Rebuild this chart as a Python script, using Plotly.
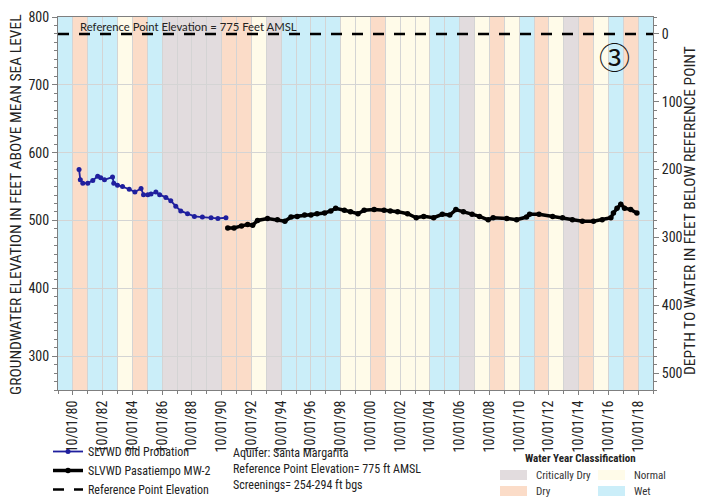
import plotly.graph_objects as go
import pandas as pd

# ---------------- data ----------------
old_prob_dates = ["1981-03-01", "1981-04-01", "1981-06-01", "1981-10-01", "1982-02-01", "1982-06-01",
                  "1982-08-15", "1982-11-15", "1983-06-01", "1983-07-01", "1983-10-01", "1984-02-01",
                  "1984-07-15", "1984-12-01", "1985-05-01", "1985-07-01", "1985-10-15", "1986-01-01",
                  "1986-05-01", "1986-08-01", "1987-01-01", "1987-05-01", "1987-09-01", "1988-01-01",
                  "1988-06-15", "1988-12-01", "1989-06-15", "1990-01-15", "1990-07-01", "1991-01-15"]
old_prob_vals = [575, 560, 555, 555, 559, 565, 563, 560, 564, 555, 552, 550,
                 546, 542, 547, 538, 538, 539, 542, 538, 534, 529, 521, 514,
                 510, 506, 505, 504, 503, 504]

mw2_dates = ["1991-03-01", "1991-08-01", "1992-02-01", "1992-07-01", "1992-11-01", "1993-03-01",
             "1993-11-01", "1994-07-01", "1995-01-01", "1995-06-01", "1995-11-01", "1996-05-01",
             "1996-10-01", "1997-03-01", "1997-09-01", "1998-02-01", "1998-06-01", "1999-01-01",
             "1999-06-01", "1999-12-01", "2000-05-01", "2001-01-01", "2001-09-01", "2002-02-01",
             "2002-08-01", "2003-04-01", "2003-11-01", "2004-05-01", "2005-01-01", "2005-08-01",
             "2006-02-01", "2006-07-01", "2007-01-01", "2007-08-01", "2008-02-01", "2008-09-01",
             "2009-01-01", "2009-12-01", "2010-08-01", "2011-04-01", "2011-06-15", "2012-02-01",
             "2013-01-01", "2013-09-01", "2014-05-01", "2015-01-01", "2015-10-01", "2016-05-01",
             "2016-12-01", "2017-02-01", "2017-05-01", "2017-08-01", "2017-11-01", "2018-04-01",
             "2018-09-01"]
mw2_vals = [489, 489, 492, 494, 493, 500, 503, 501, 499, 505, 506, 508,
            508, 510, 511, 514, 518, 515, 513, 510, 515, 516, 515, 514,
            513, 510, 504, 506, 504, 509, 508, 516, 513, 509, 506, 501,
            504, 503, 501, 505, 509, 509, 506, 504, 501, 499, 499, 501,
            504, 511, 518, 524, 518, 516, 511]

ref_elev = 775
x_start, x_end = "1979-10-01", "2019-10-01"

wy_years = list(range(1980, 2020))
wy_class = ["W", "D", "W", "W", "N", "D", "W", "C", "C", "C",
            "C", "D", "D", "N", "C", "W", "W", "W", "W", "N",
            "N", "D", "N", "N", "N", "W", "W", "C", "N", "D",
            "N", "W", "D", "N", "C", "D", "N", "W", "D", "W"]
class_names = {"C": "Critically Dry", "N": "Normal", "D": "Dry", "W": "Wet"}
class_colors = {"C": "#e2dcde", "N": "#fffbe9", "D": "#fbdcc8", "W": "#cbeef9"}

tick_labels = ["10/01/80", "10/01/82", "10/01/84", "10/01/86", "10/01/88", "10/01/90",
               "10/01/92", "10/01/94", "10/01/96", "10/01/98", "10/01/00", "10/01/02",
               "10/01/04", "10/01/06", "10/01/08", "10/01/10", "10/01/12", "10/01/14",
               "10/01/16", "10/01/18"]
tick_vals = pd.to_datetime(tick_labels, format="%m/%d/%y")

y_range = [250, 800]

NARROW = "Liberation Sans Narrow, Arial Narrow, Roboto Condensed, Liberation Sans, Arial, sans-serif"

# page body has an 8px margin; figure is sized so it ends at the window edge
OFF = 8
W, H = 704 - OFF, 499 - OFF
ML, MR, MT, MB = 58 - OFF, 704 - 653, 17 - OFF, 499 - 390
PW, PH = W - ML - MR, H - MT - MB


def px(x):
    """window x pixel -> paper coordinate"""
    return (x - OFF - ML) / PW


def py(y):
    """window y pixel -> paper coordinate"""
    return (H - MB - (y - OFF)) / PH


fig = go.Figure()

# water-year background bands
shapes = []
for yr, c in zip(wy_years, wy_class):
    shapes.append(dict(type="rect", xref="x", yref="paper",
                       x0=f"{yr - 1}-10-01", x1=f"{yr}-10-01", y0=0, y1=1,
                       fillcolor=class_colors[c], line=dict(width=0), layer="below"))

fig.add_trace(go.Scatter(
    x=pd.to_datetime(old_prob_dates), y=old_prob_vals, mode="lines+markers",
    name="SLVWD Old Probation",
    line=dict(color="#1f1f9e", width=1.8), marker=dict(color="#1f1f9e", size=5)))
fig.add_trace(go.Scatter(
    x=pd.to_datetime(mw2_dates), y=mw2_vals, mode="lines+markers",
    name="SLVWD Pasatiempo MW-2",
    line=dict(color="black", width=3.5), marker=dict(color="black", size=5.5)))
fig.add_trace(go.Scatter(
    x=[x_start, x_end], y=[ref_elev, ref_elev], mode="lines",
    name="Reference Point Elevation",
    line=dict(color="black", width=2.5, dash="11px,10px")))
# invisible trace to activate right axis
fig.add_trace(go.Scatter(
    x=[x_start], y=[ref_elev - y_range[0]], yaxis="y2", mode="markers",
    marker=dict(opacity=0), showlegend=False, hoverinfo="skip"))

# water year classification legend swatches
legend_items = [("C", 500, 475), ("D", 500, 491), ("N", 598, 475), ("W", 598, 491)]
annotations = []
for c, x0, yc in legend_items:
    shapes.append(dict(type="rect", xref="paper", yref="paper",
                       x0=px(x0), x1=px(x0 + 27), y0=py(yc + 5), y1=py(yc - 5),
                       fillcolor=class_colors[c], line=dict(width=0), layer="above"))
    annotations.append(dict(xref="paper", yref="paper", x=px(x0 + 34), y=py(yc),
                            text=class_names[c], showarrow=False, xanchor="left",
                            yanchor="middle", font=dict(family=NARROW, size=11, color="#333")))

annotations += [
    dict(xref="paper", yref="paper", x=px(580), y=py(458), text="<b>Water Year Classification</b>",
         showarrow=False, xanchor="center", yanchor="middle",
         font=dict(family=NARROW, size=11, color="#222")),
    dict(xref="paper", yref="paper", x=px(231), y=py(453), text="Aquifer: Santa Margarita",
         showarrow=False, xanchor="left", yanchor="middle", font=dict(family=NARROW, size=12, color="#222")),
    dict(xref="paper", yref="paper", x=px(231), y=py(469), text="Reference Point Elevation= 775 ft AMSL",
         showarrow=False, xanchor="left", yanchor="middle", font=dict(family=NARROW, size=12, color="#222")),
    dict(xref="paper", yref="paper", x=px(231), y=py(485), text="Screenings= 254-294 ft bgs",
         showarrow=False, xanchor="left", yanchor="middle", font=dict(family=NARROW, size=12, color="#222")),
    dict(xref="paper", yref="paper", x=px(78), y=py(26), text="Reference Point Elevation = 775 Feet AMSL",
         showarrow=False, xanchor="left", yanchor="middle",
         font=dict(family="Lato, Open Sans, sans-serif", size=11.3, color="#222")),
    dict(xref="paper", yref="paper", x=px(614), y=py(56), text="③",
         showarrow=False, xanchor="center", yanchor="middle",
         font=dict(family="Noto Sans CJK JP, DejaVu Sans", size=31, color="#111")),
    dict(xref="paper", yref="paper", x=px(16), y=py(205),
         text="GROUNDWATER ELEVATION IN FEET ABOVE MEAN SEA LEVEL", textangle=-90,
         showarrow=False, xanchor="center", yanchor="middle", font=dict(family=NARROW, size=15.5, color="#222")),
    dict(xref="paper", yref="paper", x=px(690), y=py(211),
         text="DEPTH TO WATER IN FEET BELOW REFERENCE POINT", textangle=-90,
         showarrow=False, xanchor="center", yanchor="middle", font=dict(family=NARROW, size=15.5, color="#222")),
]

axis_gray = "#7f7f7f"
grid_gray = "#d4d4d4"

fig.update_layout(
    width=W, height=H,
    margin=dict(l=ML, r=MR, t=MT, b=MB, autoexpand=False),
    paper_bgcolor="white", plot_bgcolor="white",
    font=dict(family=NARROW, size=14, color="#222"),
    shapes=shapes, annotations=annotations,
    showlegend=True,
    legend=dict(xref="container", yref="container", x=(48 - OFF) / W, y=1 - (437 - OFF) / H,
                xanchor="left", yanchor="top", font=dict(family=NARROW, size=12, color="#222"),
                bgcolor="rgba(0,0,0,0)", tracegroupgap=0, itemwidth=30),
    xaxis=dict(type="date", range=[x_start, x_end], tickmode="array", tickvals=tick_vals,
               ticktext=tick_labels, tickangle=-90, tickfont=dict(family=NARROW, size=14),
               showgrid=True, gridcolor=grid_gray, gridwidth=1,
               ticks="outside", ticklen=4, tickcolor=axis_gray,
               showline=True, linecolor=axis_gray, linewidth=1, mirror=True,
               minor=dict(dtick="M12", tick0="1979-10-01", showgrid=True, gridcolor=grid_gray,
                          ticks="outside", ticklen=3, tickcolor=axis_gray),
               zeroline=False, automargin=False),
    yaxis=dict(range=y_range, tickvals=[300, 400, 500, 600, 700, 800],
               tickfont=dict(family=NARROW, size=14),
               showgrid=True, gridcolor=grid_gray, gridwidth=1,
               ticks="outside", ticklen=5, tickcolor=axis_gray,
               showline=True, linecolor=axis_gray, linewidth=1,
               minor=dict(dtick=12.5, ticks="outside", ticklen=3, tickcolor=axis_gray),
               zeroline=False, automargin=False),
    yaxis2=dict(range=[ref_elev - y_range[0], ref_elev - y_range[1]], overlaying="y", side="right",
                tickvals=[0, 100, 200, 300, 400, 500], tickfont=dict(family=NARROW, size=14),
                showgrid=False, ticks="outside", ticklen=5, tickcolor=axis_gray,
                showline=True, linecolor=axis_gray, linewidth=1,
                minor=dict(dtick=12.5, ticks="outside", ticklen=3, tickcolor=axis_gray),
                zeroline=False, automargin=False),
)

fig.write_html("out.html")
